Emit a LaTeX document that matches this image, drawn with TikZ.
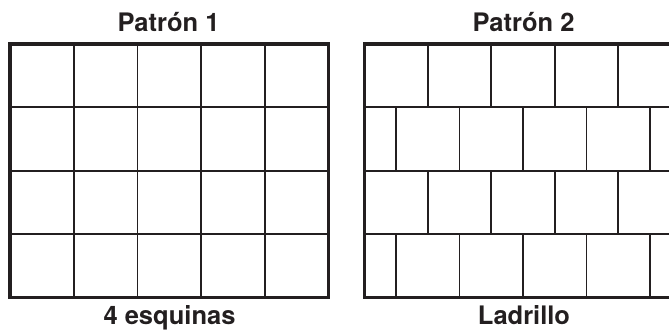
\documentclass[tikz,border=0pt]{standalone}
\usepackage{fontspec}
\setmainfont{TeX Gyre Heros}
\definecolor{ink}{HTML}{231F20}
\begin{document}
\begin{tikzpicture}[x=1pt,y=1pt,
  outer/.style={draw=ink,line width=3.3pt},
  inner/.style={draw=ink,line width=1.8pt},
  lbl/.style={text=ink,font=\fontsize{25.5}{30}\selectfont\bfseries,anchor=base,inner sep=0pt}]
\useasboundingbox (0,0) rectangle (669,331);
% left grid: 5 x 4 squares
\foreach \i in {1,...,4} \draw[inner] (10+63.7*\i,33.4) -- (10+63.7*\i,287);
\foreach \j in {1,...,3} \draw[inner] (10,33.4+63.4*\j) -- (328.5,33.4+63.4*\j);
\draw[outer] (10,33.4) rectangle (328.5,287);
% right grid: brick pattern
\foreach \j in {1,...,3} \draw[inner] (364.3,33.4+63.4*\j) -- (675,33.4+63.4*\j);
\foreach \k in {1,...,4} {
  \draw[inner] (364.3+63.5*\k,223.6) -- (364.3+63.5*\k,287);
  \draw[inner] (364.3+63.5*\k,96.8) -- (364.3+63.5*\k,160.2);
}
\foreach \k in {0,...,4} {
  \draw[inner] (396.05+63.5*\k,160.2) -- (396.05+63.5*\k,223.6);
  \draw[inner] (396.05+63.5*\k,33.4) -- (396.05+63.5*\k,96.8);
}
\draw[outer] (675,287) -- (364.3,287) -- (364.3,33.4) -- (675,33.4);
% labels
\node[lbl] (t1) at (168.5,299.3) {Patrón 1};
\node[lbl] (t2) at (523.5,299.3) {Patrón 2};
\node[lbl] (b1) at (169.5,6) {4 esquinas};
\node[lbl] (b2) at (524,6) {Ladrillo};
\end{tikzpicture}
\end{document}
